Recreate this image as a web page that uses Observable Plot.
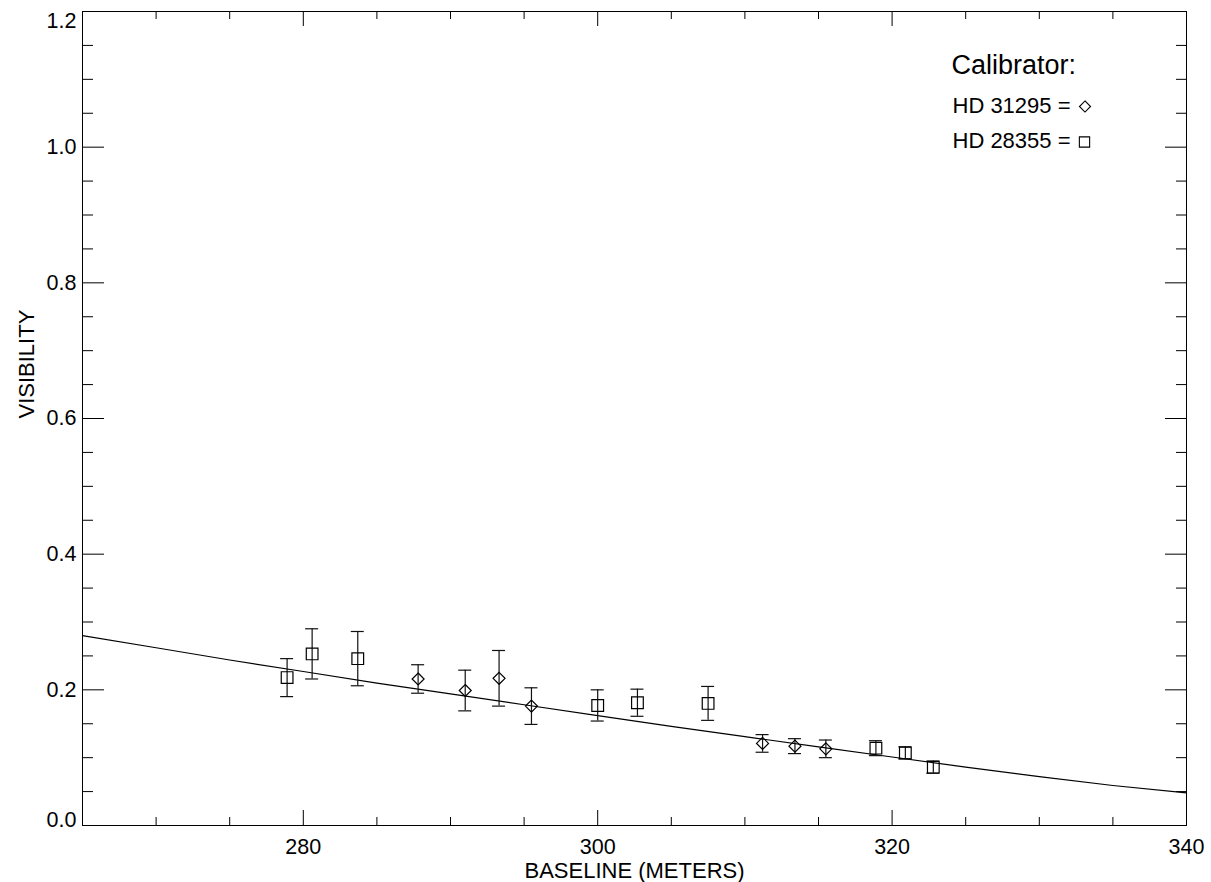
<!DOCTYPE html>
<html>
<head>
<meta charset="utf-8">
<script src="https://cdn.jsdelivr.net/npm/d3@7"></script>
<script src="https://cdn.jsdelivr.net/npm/@observablehq/plot@0.6"></script>
<style>
  html, body { margin: 0; padding: 0; background: #fff; }
  #chart svg { display: block; }
</style>
</head>
<body>
<div id="chart"></div>
<script>
// ---- data ----
const sqBaseline = [278.9, 280.6, 283.7, 300.0, 302.7, 307.5, 318.9, 320.9, 322.8];
const sqVis      = [0.218, 0.253, 0.246, 0.177, 0.181, 0.180, 0.114, 0.107, 0.086];
const sqErr      = [0.028, 0.037, 0.040, 0.023, 0.020, 0.025, 0.011, 0.009, 0.009];

const dmBaseline = [287.8, 291.0, 293.3, 295.5, 311.2, 313.4, 315.5];
const dmVis      = [0.216, 0.199, 0.217, 0.176, 0.121, 0.117, 0.113];
const dmErr      = [0.021, 0.030, 0.041, 0.027, 0.013, 0.011, 0.013];

const fitBaseline = [265, 270, 275, 280, 285, 290, 295, 300, 305, 310, 315, 320, 325, 330, 335, 340];
const fitVis      = [0.280, 0.262, 0.244, 0.227, 0.210, 0.194, 0.178, 0.162, 0.146, 0.131, 0.116, 0.101, 0.086, 0.072, 0.059, 0.048];

const xMajorTicks = [280, 300, 320, 340];
const xMinorTicks = [270, 275, 285, 290, 295, 305, 310, 315, 325, 330, 335];
const yMajorTicks = [0.0, 0.2, 0.4, 0.6, 0.8, 1.0, 1.2];
const yMinorTicks = [0.05, 0.1, 0.15, 0.25, 0.3, 0.35, 0.45, 0.5, 0.55, 0.65, 0.7, 0.75, 0.85, 0.9, 0.95, 1.05, 1.1, 1.15];

const xTitle = "BASELINE (METERS)";
const yTitle = "VISIBILITY";
const legendTitle = "Calibrator:";
const legendDiamond = "HD 31295 =";
const legendSquare = "HD 28355 =";

// ---- build tables ----
const squares = sqBaseline.map((b, i) => ({b, v: sqVis[i], lo: sqVis[i] - sqErr[i], hi: sqVis[i] + sqErr[i]}));
const diamonds = dmBaseline.map((b, i) => ({b, v: dmVis[i], lo: dmVis[i] - dmErr[i], hi: dmVis[i] + dmErr[i]}));
const points = squares.concat(diamonds);
const fit = fitBaseline.map((b, i) => ({b, v: fitVis[i]}));

const W = 1211, H = 882;
const mL = 82, mR = 25, mT = 11, mB = 57;
const pw = W - mL - mR, ph = H - mT - mB;
const font = "'Liberation Sans', Arial, Helvetica, sans-serif";
const fmt = d3.format(".1f");

const chart = Plot.plot({
  width: W, height: H,
  marginLeft: mL, marginRight: mR, marginTop: mT, marginBottom: mB,
  x: {domain: [265, 340], axis: null},
  y: {domain: [0, 1.2], axis: null},
  style: {fontFamily: font, background: "#fff", color: "#000"},
  marks: [
    // ticks: bottom & top
    Plot.tickX(xMinorTicks, {x: d => d, stroke: "#000", insetTop: ph - 8}),
    Plot.tickX(xMajorTicks, {x: d => d, stroke: "#000", insetTop: ph - 15}),
    Plot.tickX(xMinorTicks, {x: d => d, stroke: "#000", insetBottom: ph - 8}),
    Plot.tickX(xMajorTicks, {x: d => d, stroke: "#000", insetBottom: ph - 15}),
    // ticks: left & right
    Plot.tickY(yMinorTicks, {y: d => d, stroke: "#000", insetRight: pw - 11}),
    Plot.tickY(yMajorTicks, {y: d => d, stroke: "#000", insetRight: pw - 22}),
    Plot.tickY(yMinorTicks, {y: d => d, stroke: "#000", insetLeft: pw - 10}),
    Plot.tickY(yMajorTicks, {y: d => d, stroke: "#000", insetLeft: pw - 21}),
    Plot.frame({stroke: "#000", strokeWidth: 1}),

    // tick labels
    Plot.text(xMajorTicks, {x: d => d, frameAnchor: "bottom", lineAnchor: "top", dy: 13,
      text: d => String(d), fontSize: 21.5, fill: "#000"}),
    Plot.text(yMajorTicks.filter(d => d > 0 && d < 1.2), {y: d => d, frameAnchor: "left", textAnchor: "end",
      lineAnchor: "middle", dx: -6, text: d => fmt(d), fontSize: 21.5, fill: "#000"}),
    Plot.text([0.0], {y: d => d, frameAnchor: "left", textAnchor: "end",
      lineAnchor: "bottom", dx: -6, dy: 1, text: d => fmt(d), fontSize: 21.5, fill: "#000"}),
    Plot.text([1.2], {y: d => d, frameAnchor: "left", textAnchor: "end",
      lineAnchor: "top", dx: -6, dy: 1, text: d => fmt(d), fontSize: 21.5, fill: "#000"}),

    // axis titles
    Plot.text([xTitle], {frameAnchor: "bottom", lineAnchor: "bottom", dy: 52,
      text: d => d, fontSize: 22, fill: "#000"}),
    Plot.text([yTitle], {frameAnchor: "left", lineAnchor: "bottom", rotate: -90, dx: -49,
      text: d => d, fontSize: 22, fill: "#000"}),

    // fitted curve
    Plot.line(fit, {x: "b", y: "v", stroke: "#000", strokeWidth: 1.2}),

    // error bars
    Plot.ruleX(points, {x: "b", y1: "lo", y2: "hi", stroke: "#111", strokeWidth: 1.2}),
    Plot.ruleY(points, {y: "lo", x1: "b", x2: "b", insetLeft: -6.5, insetRight: -6.5, stroke: "#111", strokeWidth: 1.2}),
    Plot.ruleY(points, {y: "hi", x1: "b", x2: "b", insetLeft: -6.5, insetRight: -6.5, stroke: "#111", strokeWidth: 1.2}),

    // markers
    Plot.dot(squares, {x: "b", y: "v", symbol: "square", r: 6.6, stroke: "#000", fill: "none", strokeWidth: 1.2}),
    Plot.dot(diamonds, {x: "b", y: "v", symbol: "diamond2", r: 5.4, stroke: "#000", fill: "none", strokeWidth: 1.2}),

    // legend
    Plot.text([legendTitle], {frameAnchor: "top-left", textAnchor: "start", lineAnchor: "bottom",
      dx: 869, dy: 62.5, text: d => d, fontSize: 27, fill: "#000"}),
    Plot.text([legendDiamond], {frameAnchor: "top-left", textAnchor: "start", lineAnchor: "bottom",
      dx: 870, dy: 101.5, text: d => d, fontSize: 22, fill: "#000"}),
    Plot.text([legendSquare], {frameAnchor: "top-left", textAnchor: "start", lineAnchor: "bottom",
      dx: 870, dy: 136, text: d => d, fontSize: 22, fill: "#000"}),
    Plot.dot([legendDiamond], {frameAnchor: "top-left", dx: 1002.5, dy: 95, symbol: "diamond2", r: 5,
      stroke: "#000", fill: "none", strokeWidth: 1.1}),
    Plot.dot([legendSquare], {frameAnchor: "top-left", dx: 1002, dy: 130.5, symbol: "square", r: 5.8,
      stroke: "#000", fill: "none", strokeWidth: 1.1})
  ]
});
document.getElementById("chart").appendChild(chart);
</script>
</body>
</html>
